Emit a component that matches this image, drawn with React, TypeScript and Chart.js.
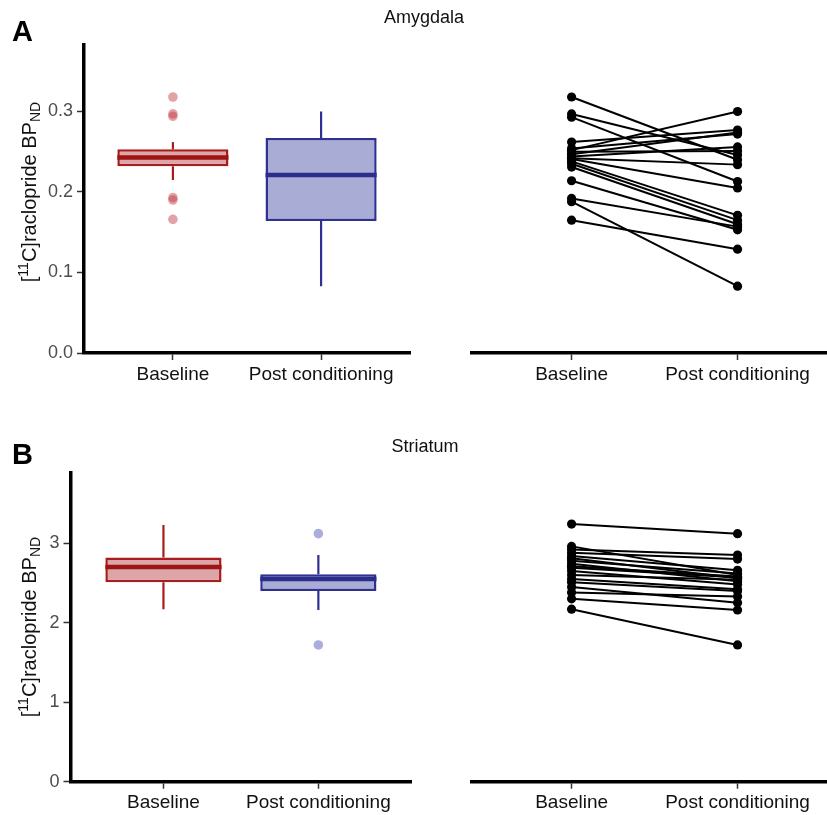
import React, { useEffect, useRef } from 'react';
import { Chart, registerables } from 'chart.js';

Chart.register(...registerables);

const FONT = '"Liberation Sans", Arial, Helvetica, sans-serif';

// ---------- shared categories ----------
const CATEGORIES = ['Baseline', 'Post conditioning'];
const CATEGORY_POS = [1, 2];

// ---------- Amygdala ----------
const AMY_Y_TICKS = [0, 0.1, 0.2, 0.3];
const AMY_Y_TICK_LABELS = ['0.0', '0.1', '0.2', '0.3'];
const AMY_Y_MAX = 0.3826;
// [lower whisker, q1, median, q3, upper whisker]
const AMY_BASE_BOX = [0.215, 0.232, 0.243, 0.253, 0.262];
const AMY_POST_BOX = [0.083, 0.164, 0.221, 0.267, 0.3];
const AMY_BASE_OUTLIERS = [0.318, 0.297, 0.294, 0.193, 0.19, 0.166];
const AMY_POST_OUTLIERS: number[] = [];
const AMY_BASELINE = [0.318, 0.297, 0.293, 0.262, 0.254, 0.252, 0.25, 0.247, 0.244, 0.242, 0.241, 0.238, 0.235, 0.231, 0.214, 0.192, 0.188, 0.165];
const AMY_POSTCOND = [0.24, 0.246, 0.213, 0.277, 0.272, 0.3, 0.251, 0.274, 0.256, 0.234, 0.205, 0.171, 0.165, 0.16, 0.153, 0.157, 0.083, 0.129];

// ---------- Striatum ----------
const STR_Y_TICKS = [0, 1, 2, 3];
const STR_Y_TICK_LABELS = ['0', '1', '2', '3'];
const STR_Y_MAX = 3.883;
const STR_BASE_BOX = [2.17, 2.51, 2.7, 2.82, 3.23];
const STR_POST_BOX = [2.16, 2.4, 2.55, 2.61, 2.85];
const STR_BASE_OUTLIERS: number[] = [];
const STR_POST_OUTLIERS = [3.12, 1.72];
const STR_BASELINE = [3.24, 2.96, 2.92, 2.88, 2.84, 2.81, 2.78, 2.74, 2.71, 2.69, 2.65, 2.6, 2.55, 2.51, 2.45, 2.38, 2.3, 2.17];
const STR_POSTCOND = [3.12, 2.6, 2.85, 2.8, 2.66, 2.56, 2.62, 2.52, 2.58, 2.57, 2.48, 2.54, 2.42, 2.4, 2.25, 2.33, 2.16, 1.72];

// ---------- styles ----------
const STROKES = ['#a81c1c', '#2e3192'];
const FILLS = ['#dca5a8', '#a9acd4'];
const MEDIANS = ['#9c1414', '#2a2d8a'];
const OUTLIER_FILLS = ['rgba(190,50,60,0.45)', 'rgba(55,60,170,0.42)'];
const BOX_HALF = 0.375;

function xScale(xMax: number, height: number) {
  return {
    type: 'linear',
    min: 0.4,
    max: xMax,
    offset: false,
    afterBuildTicks: (s: any) => {
      s.ticks = CATEGORY_POS.map((v) => ({ value: v }));
    },
    afterFit: (s: any) => {
      s.height = height;
    },
    ticks: {
      autoSkip: false,
      maxRotation: 0,
      minRotation: 0,
      padding: 3,
      color: '#111',
      font: { family: FONT, size: 19 },
      callback: (v: number) => {
        const i = CATEGORY_POS.indexOf(v);
        return i >= 0 ? CATEGORIES[i] : '';
      },
    },
    grid: {
      display: true,
      drawOnChartArea: false,
      drawTicks: true,
      tickLength: 7,
      tickWidth: 1.5,
      tickColor: '#333',
      offset: false,
    },
    border: { display: true, color: '#000', width: 3.5 },
  };
}

function yScale(yMax: number, ticks: number[], labels: string[], width: number | null) {
  return {
    type: 'linear',
    min: 0,
    max: yMax,
    display: width !== null,
    afterBuildTicks: (s: any) => {
      s.ticks = ticks.map((v) => ({ value: v }));
    },
    afterFit: (s: any) => {
      if (width !== null) s.width = width;
    },
    ticks: {
      padding: 4,
      color: '#4d4d4d',
      font: { family: FONT, size: 18 },
      callback: (v: number) => {
        const i = ticks.indexOf(v);
        return i >= 0 ? labels[i] : '';
      },
    },
    grid: {
      display: true,
      drawOnChartArea: false,
      drawTicks: true,
      tickLength: 7,
      tickWidth: 1.5,
      tickColor: '#333',
    },
    border: { display: true, color: '#000', width: 3.5 },
  };
}

function boxConfig(opts: {
  boxes: number[][];
  outliers: number[][];
  yMax: number;
  yTicks: number[];
  yLabels: string[];
  yWidth: number;
  xHeight: number;
  padding: any;
}) {
  const { boxes, outliers } = opts;
  const datasets: any[] = [];
  datasets.push({
    type: 'bar',
    data: CATEGORY_POS.map((x, i) => ({ x, y: [boxes[i][1], boxes[i][3]] })),
    backgroundColor: FILLS,
    borderColor: STROKES,
    borderWidth: 2.5,
    borderSkipped: false,
    barPercentage: 1,
    categoryPercentage: 0.75,
    order: 5,
  });
  CATEGORY_POS.forEach((x, i) => {
    const b = boxes[i];
    datasets.push({
      type: 'scatter',
      showLine: true,
      data: [{ x, y: b[3] }, { x, y: b[4] }],
      borderColor: STROKES[i],
      borderWidth: 2.2,
      pointRadius: 0,
      order: 6,
    });
    datasets.push({
      type: 'scatter',
      showLine: true,
      data: [{ x, y: b[1] }, { x, y: b[0] }],
      borderColor: STROKES[i],
      borderWidth: 2.2,
      pointRadius: 0,
      order: 6,
    });
    datasets.push({
      type: 'scatter',
      showLine: true,
      data: [{ x: x - BOX_HALF, y: b[2] }, { x: x + BOX_HALF, y: b[2] }],
      borderColor: MEDIANS[i],
      borderWidth: 4.5,
      pointRadius: 0,
      order: 2,
    });
    datasets.push({
      type: 'scatter',
      data: outliers[i].map((y) => ({ x, y })),
      pointRadius: 4.8,
      pointBorderWidth: 0,
      backgroundColor: OUTLIER_FILLS[i],
      borderColor: 'rgba(0,0,0,0)',
      order: 1,
    });
  });
  return {
    type: 'bar',
    data: { datasets },
    options: {
      responsive: false,
      animation: false,
      devicePixelRatio: 1,
      layout: { padding: opts.padding, autoPadding: false },
      plugins: { legend: { display: false }, tooltip: { enabled: false }, title: { display: false } },
      events: [],
      scales: {
        x: xScale(2.6, opts.xHeight),
        y: yScale(opts.yMax, opts.yTicks, opts.yLabels, opts.yWidth),
      },
    },
  };
}

function pairConfig(opts: {
  base: number[];
  post: number[];
  yMax: number;
  xMax: number;
  xHeight: number;
  padding: any;
}) {
  const datasets = opts.base.map((b, i) => ({
    type: 'scatter',
    showLine: true,
    data: [
      { x: CATEGORY_POS[0], y: b },
      { x: CATEGORY_POS[1], y: opts.post[i] },
    ],
    borderColor: '#000',
    backgroundColor: '#000',
    borderWidth: 2,
    pointRadius: 4.6,
    pointBorderWidth: 0,
  }));
  return {
    type: 'scatter',
    data: { datasets },
    options: {
      responsive: false,
      animation: false,
      devicePixelRatio: 1,
      layout: { padding: opts.padding, autoPadding: false },
      plugins: { legend: { display: false }, tooltip: { enabled: false }, title: { display: false } },
      events: [],
      scales: {
        x: xScale(opts.xMax, opts.xHeight),
        y: yScale(opts.yMax, [], [], null),
      },
    },
  };
}

function ChartCanvas({ config, left, top, width, height }: any) {
  const ref = useRef<HTMLCanvasElement | null>(null);
  useEffect(() => {
    if (!ref.current) return;
    const chart = new Chart(ref.current, config as any);
    return () => chart.destroy();
  }, [config]);
  return (
    <canvas
      ref={ref}
      width={width}
      height={height}
      style={{ position: 'absolute', left, top, width, height, display: 'block' }}
    />
  );
}

function YLabel({ cx, cy }: { cx: number; cy: number }) {
  return (
    <div
      style={{
        position: 'absolute',
        left: cx,
        top: cy,
        transform: 'translate(-50%, -50%) rotate(-90deg)',
        whiteSpace: 'nowrap',
        fontFamily: FONT,
        fontSize: 20,
        color: '#111',
        lineHeight: 1,
      }}
    >
      [<sup style={{ fontSize: '0.7em', lineHeight: 0, verticalAlign: '0.55em' }}>11</sup>C]raclopride BP
      <sub style={{ fontSize: '0.7em', lineHeight: 0, verticalAlign: '-0.3em' }}>ND</sub>
    </div>
  );
}

const textBase: React.CSSProperties = {
  position: 'absolute',
  fontFamily: FONT,
  lineHeight: 1,
  whiteSpace: 'nowrap',
  color: '#111',
};

const X_MAX_RIGHT = 2.539;

const CFG_A_LEFT = boxConfig({
  boxes: [AMY_BASE_BOX, AMY_POST_BOX],
  outliers: [AMY_BASE_OUTLIERS, AMY_POST_OUTLIERS],
  yMax: AMY_Y_MAX,
  yTicks: AMY_Y_TICKS,
  yLabels: AMY_Y_TICK_LABELS,
  yWidth: 84,
  xHeight: 47,
  padding: { left: 0, top: 45, right: 5, bottom: 0 },
});
const CFG_A_RIGHT = pairConfig({
  base: AMY_BASELINE,
  post: AMY_POSTCOND,
  yMax: AMY_Y_MAX,
  xMax: X_MAX_RIGHT,
  xHeight: 47,
  padding: { left: 57, top: 45, right: 0, bottom: 0 },
});
const CFG_B_LEFT = boxConfig({
  boxes: [STR_BASE_BOX, STR_POST_BOX],
  outliers: [STR_BASE_OUTLIERS, STR_POST_OUTLIERS],
  yMax: STR_Y_MAX,
  yTicks: STR_Y_TICKS,
  yLabels: STR_Y_TICK_LABELS,
  yWidth: 70.5,
  xHeight: 33.3,
  padding: { left: 0, top: 73, right: 3.7, bottom: 0 },
});
const CFG_B_RIGHT = pairConfig({
  base: STR_BASELINE,
  post: STR_POSTCOND,
  yMax: STR_Y_MAX,
  xMax: X_MAX_RIGHT,
  xHeight: 33.3,
  padding: { left: 57, top: 73, right: 0, bottom: 0 },
});

export default function App() {
  return (
    <div
      style={{
        position: 'absolute',
        left: 0,
        top: 0,
        width: 827,
        height: 815,
        background: '#fff',
        overflow: 'hidden',
      }}
    >
      <ChartCanvas config={CFG_A_LEFT} left={0} top={0} width={415} height={400} />
      <ChartCanvas config={CFG_A_RIGHT} left={415} top={0} width={412} height={400} />
      <ChartCanvas config={CFG_B_LEFT} left={0} top={400} width={415} height={415} />
      <ChartCanvas config={CFG_B_RIGHT} left={415} top={400} width={412} height={415} />

      <div style={{ ...textBase, left: 12, top: 17, fontSize: 29, fontWeight: 'bold', color: '#000' }}>A</div>
      <div style={{ ...textBase, left: 12, top: 440, fontSize: 29, fontWeight: 'bold', color: '#000' }}>B</div>
      <div style={{ ...textBase, left: 424, top: 8, fontSize: 18, transform: 'translateX(-50%)' }}>Amygdala</div>
      <div style={{ ...textBase, left: 425, top: 437, fontSize: 18, transform: 'translateX(-50%)' }}>Striatum</div>
      <YLabel cx={29} cy={192} />
      <YLabel cx={29} cy={627} />
    </div>
  );
}
